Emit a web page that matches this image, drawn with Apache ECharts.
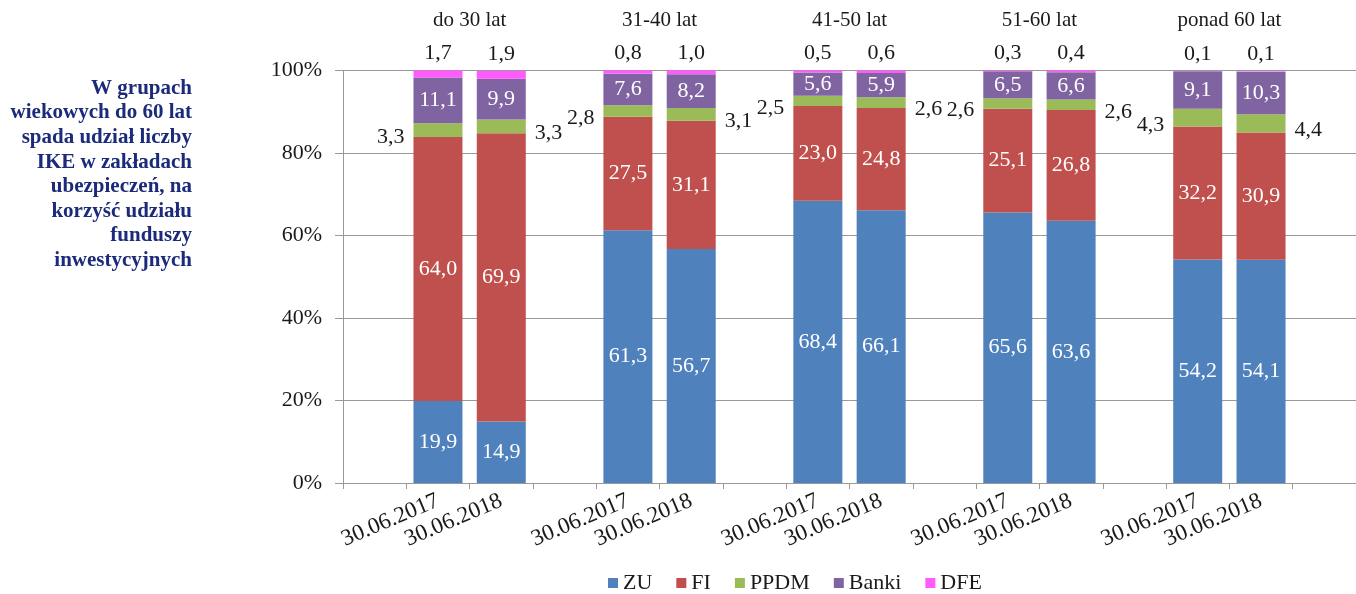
<!DOCTYPE html>
<html><head><meta charset="utf-8">
<script src="https://cdn.jsdelivr.net/npm/echarts@6/dist/echarts.min.js"></script>
<style>html,body{margin:0;padding:0;background:#fff}#c{width:1356px;height:594px}</style>
</head><body><div id="c"></div>
<script>
const groups = ['do 30 lat', '31-40 lat', '41-50 lat', '51-60 lat', 'ponad 60 lat'];
const dates = ['30.06.2017', '30.06.2018'];
const seriesNames = ['ZU', 'FI', 'PPDM', 'Banki', 'DFE'];
const ZU    = [19.9, 14.9, 61.3, 56.7, 68.4, 66.1, 65.6, 63.6, 54.2, 54.1];
const FI    = [64.0, 69.9, 27.5, 31.1, 23.0, 24.8, 25.1, 26.8, 32.2, 30.9];
const PPDM  = [3.3, 3.3, 2.8, 3.1, 2.5, 2.6, 2.6, 2.6, 4.3, 4.4];
const Banki = [11.1, 9.9, 7.6, 8.2, 5.6, 5.9, 6.5, 6.6, 9.1, 10.3];
const DFE   = [1.7, 1.9, 0.8, 1.0, 0.5, 0.6, 0.3, 0.4, 0.1, 0.1];
const yTicks = [0, 20, 40, 60, 80, 100];
const sideNote = ['W grupach', 'wiekowych do 60 lat', 'spada udział liczby', 'IKE w zakładach',
  'ubezpieczeń, na', 'korzyść udziału', 'funduszy', 'inwestycyjnych'];

const FONT = 'Liberation Serif';
const colors = ['#4F81BD', '#C0504D', '#9BBB59', '#8064A2', '#FF5BFF'];

// layout: each group = one empty slot + two bars, plus a trailing empty slot
const nSlots = groups.length * 3 + 1;
const categories = [];
for (let s = 0; s < nSlots; s++) {
  const r = s % 3;
  categories.push(r === 0 || s === nSlots - 1 ? '' : dates[r - 1]);
}
function toSlots(arr, mapItem) {
  const out = new Array(nSlots).fill(null);
  arr.forEach((v, i) => {
    const g = Math.floor(i / 2), k = i % 2;
    const s = g * 3 + 1 + k;
    out[s] = mapItem ? mapItem(v, k) : v;
  });
  return out;
}
const fmt = p => p.value == null ? '' : Number(p.value).toFixed(1).replace('.', ',');
const groupCenters = groups.map((g, i) => i * 3 + 2);

const txt = { fontFamily: FONT, fontSize: 22, color: '#1a1a1a' };
const inside = { show: true, position: 'inside', formatter: fmt, fontFamily: FONT, fontSize: 22, color: '#fff' };

const option = {
  animation: false,
  backgroundColor: '#fff',
  color: colors,
  textStyle: { fontFamily: FONT },
  grid: { left: 343, top: 70.5, width: 1015, height: 412.5, containLabel: false },
  legend: {
    data: seriesNames, left: 603, top: 567, icon: 'rect', itemWidth: 10, itemHeight: 10, itemGap: 24,
    textStyle: { fontFamily: FONT, fontSize: 22, color: '#1a1a1a' }
  },
  xAxis: [{
    type: 'category', data: categories, position: 'bottom',
    axisLine: { show: true, lineStyle: { color: '#999' } },
    axisTick: { show: true, length: 6, lineStyle: { color: '#999' } },
    axisLabel: { interval: 0, rotate: 23, margin: 17, ...txt, fontSize: 23 }
  }, {
    type: 'value', position: 'top', min: 0, max: nSlots,
    axisLine: { show: false }, axisTick: { show: false }, splitLine: { show: false },
    axisLabel: {
      show: true, customValues: groupCenters, margin: 40, ...txt, fontSize: 21,
      formatter: v => groups[groupCenters.indexOf(v)] || ''
    }
  }],
  yAxis: {
    type: 'value', min: 0, max: 100, interval: 20,
    axisLine: { show: true, lineStyle: { color: '#999' } },
    axisTick: { show: true, length: 8, lineStyle: { color: '#999' } },
    splitLine: { show: true, lineStyle: { color: '#999' } },
    axisLabel: { margin: 21, formatter: '{value}%', ...txt }
  },
  graphic: [{
    type: 'text', right: 1356 - 192, top: 76,
    style: {
      text: sideNote.join('\n'), font: 'bold 21px "Liberation Serif"', fill: '#1B2A7A',
      textAlign: 'right', lineHeight: 24.6
    }
  }],
  series: [
    { name: 'ZU', type: 'bar', stack: 't', barWidth: 49, data: toSlots(ZU), label: inside },
    { name: 'FI', type: 'bar', stack: 't', barWidth: 49, data: toSlots(FI), label: inside },
    { name: 'PPDM', type: 'bar', stack: 't', barWidth: 49,
      data: toSlots(PPDM, (v, k) => ({ value: v, label: { position: k === 0 ? 'left' : 'right' } })),
      label: { show: true, formatter: fmt, distance: 9, offset: [0, 7], ...txt } },
    { name: 'Banki', type: 'bar', stack: 't', barWidth: 49, data: toSlots(Banki), label: inside },
    { name: 'DFE', type: 'bar', stack: 't', barWidth: 49, data: toSlots(DFE),
      label: { show: true, position: 'top', formatter: fmt, distance: 6, ...txt } }
  ]
};
const chart = echarts.init(document.getElementById('c'));
chart.setOption(option);
</script>
</body></html>
